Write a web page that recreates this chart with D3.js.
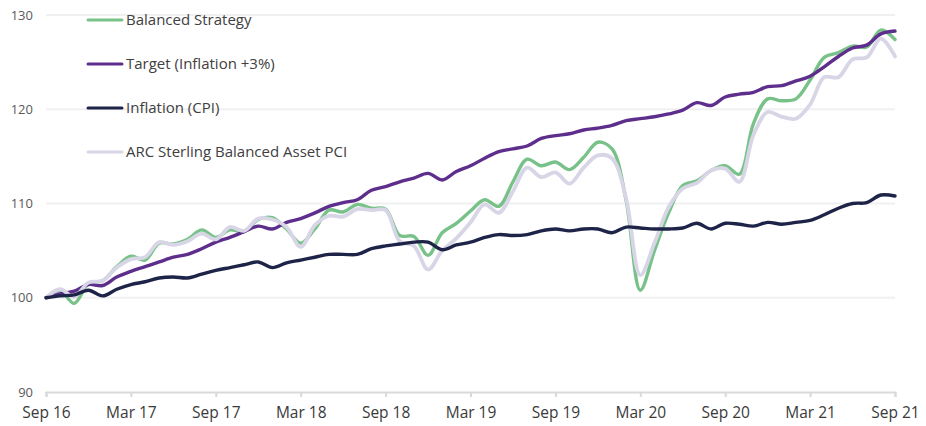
<!DOCTYPE html>
<html>
<head>
<meta charset="utf-8">
<script src="https://cdn.jsdelivr.net/npm/d3@7"></script>
<style>
  body { margin: 0; background: #fff; }
  text { font-family: "Open Sans", "Noto Sans", sans-serif; }
</style>
</head>
<body>
<div id="chart"></div>
<script>
// monthly index points, Sep 16 .. Sep 21
var tickLabels = ["Sep 16", "Mar 17", "Sep 17", "Mar 18", "Sep 18", "Mar 19",
                  "Sep 19", "Mar 20", "Sep 20", "Mar 21", "Sep 21"];
var yTicks = [90, 100, 110, 120, 130];

var balanced = [100.0, 100.7, 99.4, 101.5, 101.8, 103.3, 104.4, 104.0, 105.8, 105.7, 106.2,
                107.2, 106.4, 107.2, 107.0, 108.3, 108.5, 107.3, 105.8, 107.3, 109.3,
                109.1, 109.9, 109.5, 109.4, 106.6, 106.5, 104.5, 106.9, 107.9, 109.2,
                110.4, 109.7, 112.3, 114.7, 114.0, 114.4, 113.6, 114.9, 116.5, 115.8,
                110.3, 100.8, 105.0, 109.0, 111.9, 112.4, 113.5, 114.0, 113.1, 118.5,
                121.1, 120.9, 121.1, 123.1, 125.5, 126.0, 126.7, 126.6, 128.4, 127.4];

var target = [100.0, 100.4, 100.7, 101.4, 101.3, 102.2, 102.8, 103.3, 103.8, 104.3, 104.6,
              105.2, 105.9, 106.4, 107.0, 107.6, 107.3, 108.0, 108.4, 109.0, 109.7,
              110.1, 110.4, 111.4, 111.8, 112.3, 112.7, 113.2, 112.5, 113.4, 114.0,
              114.8, 115.5, 115.8, 116.1, 116.9, 117.2, 117.4, 117.8, 118.0, 118.3,
              118.8, 119.0, 119.2, 119.5, 119.9, 120.7, 120.4, 121.3, 121.6, 121.8,
              122.4, 122.5, 123.0, 123.5, 124.5, 125.6, 126.5, 126.8, 128.0, 128.3];

var cpi = [100.0, 100.2, 100.3, 100.8, 100.2, 100.9, 101.4, 101.7, 102.1, 102.2, 102.1,
           102.5, 102.9, 103.2, 103.5, 103.8, 103.2, 103.7, 104.0, 104.3, 104.6,
           104.6, 104.6, 105.2, 105.5, 105.7, 105.9, 105.9, 105.1, 105.6, 105.9,
           106.4, 106.7, 106.6, 106.7, 107.1, 107.3, 107.1, 107.3, 107.3, 106.9,
           107.5, 107.4, 107.3, 107.3, 107.4, 107.9, 107.3, 107.9, 107.8, 107.6,
           108.0, 107.8, 108.0, 108.2, 108.8, 109.5, 110.0, 110.1, 110.9, 110.8];

var arc = [100.0, 100.9, 100.1, 101.6, 101.8, 103.2, 104.1, 104.3, 105.9, 105.6, 106.0,
           106.8, 106.2, 107.5, 107.1, 108.4, 108.3, 107.5, 105.4, 107.7, 108.7,
           108.6, 109.4, 109.3, 109.3, 106.0, 105.5, 103.0, 105.0, 106.3, 108.0,
           109.9, 109.0, 111.3, 113.8, 112.8, 113.3, 112.1, 113.8, 115.1, 114.8,
           110.5, 102.4, 105.8, 109.6, 111.6, 112.2, 113.5, 113.7, 112.3, 117.3,
           119.7, 119.2, 119.0, 120.5, 123.4, 123.4, 125.3, 125.5, 127.5, 125.6];

var seriesNames = ["Balanced Strategy", "Target (Inflation +3%)", "Inflation (CPI)", "ARC Sterling Balanced Asset PCI"];
var seriesColors = ["#78c28a", "#5e2e8c", "#1e2348", "#d8d5e7"];
var seriesData = [balanced, target, cpi, arc];

var width = 926, height = 426;
var margin = {top: 15, right: 31, bottom: 34, left: 46};

var svg = d3.select("#chart")
    .append("svg")
    .attr("width", width)
    .attr("height", height);

var x = d3.scaleLinear()
    .domain([0, balanced.length - 1])
    .range([margin.left, width - margin.right]);

var y = d3.scaleLinear()
    .domain([90, 130])
    .range([height - margin.bottom, margin.top]);

// gridlines
svg.append("g")
    .selectAll("line")
    .data(yTicks.slice(1))
    .enter()
    .append("line")
    .attr("x1", x(0))
    .attr("x2", x(60))
    .attr("y1", function(d) { return y(d); })
    .attr("y2", function(d) { return y(d); })
    .style("stroke", "#f0f0f0")
    .attr("stroke-width", 2);

// y labels
svg.append("g")
    .selectAll("text")
    .data(yTicks)
    .enter()
    .append("text")
    .attr("x", 33)
    .attr("y", function(d) { return y(d); })
    .attr("dy", "0.35em")
    .attr("text-anchor", "end")
    .attr("fill", "#595959")
    .style("font-size", "13px")
    .text(function(d) { return d; });

// x axis
var xAxis = d3.axisBottom(x)
    .tickValues(d3.range(0, 61, 6))
    .tickSize(5)
    .tickFormat(function(d, i) { return tickLabels[i]; });

var gx = svg.append("g")
    .attr("transform", "translate(0," + y(90) + ")")
    .call(xAxis);
gx.select(".domain").attr("stroke", "#d9d9d9").attr("stroke-width", 2);
gx.selectAll(".tick line").attr("stroke", "#d9d9d9").attr("stroke-width", 2);
gx.selectAll(".tick text")
    .attr("y", 15)
    .attr("fill", "#3a3a3a")
    .style("font-size", "15.5px")
    .style("font-family", "'Open Sans', sans-serif");

// lines
var line = d3.line()
    .x(function(d, i) { return x(i); })
    .y(function(d) { return y(d); })
    .curve(d3.curveCatmullRom);

var drawOrder = [0, 1, 3, 2];
drawOrder.forEach(function(k) {
    svg.append("path")
        .datum(seriesData[k])
        .attr("d", line)
        .attr("fill", "none")
        .style("stroke", seriesColors[k])
        .attr("stroke-width", k === 3 ? 3.8 : 3.4)
        .attr("stroke-linejoin", "round")
        .attr("stroke-linecap", "round");
});

// legend
var legend = svg.append("g")
    .selectAll("g")
    .data(seriesNames)
    .enter()
    .append("g")
    .attr("transform", function(d, i) { return "translate(88," + (20 + i * 44) + ")"; });

legend.append("line")
    .attr("x1", 0)
    .attr("x2", 34)
    .style("stroke", function(d, i) { return seriesColors[i]; })
    .attr("stroke-width", 3)
    .attr("stroke-linecap", "round");

legend.append("text")
    .attr("x", 38)
    .attr("dy", "0.35em")
    .attr("fill", "#404040")
    .style("font-size", "15px")
    .text(function(d) { return d; });
</script>
</body>
</html>
